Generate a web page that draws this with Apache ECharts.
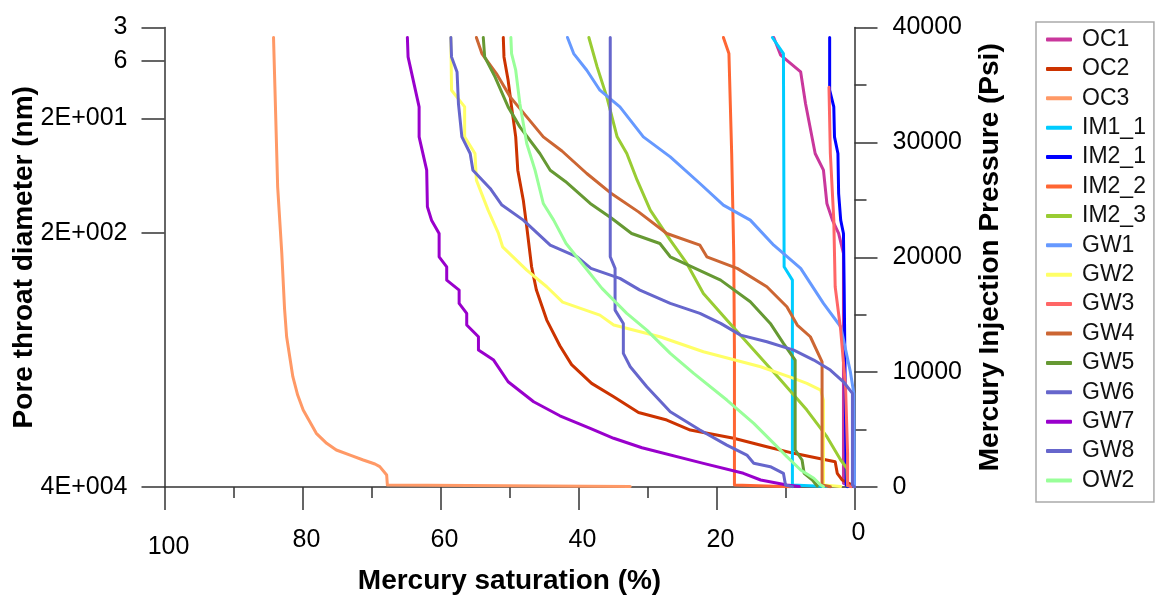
<!DOCTYPE html>
<html>
<head>
<meta charset="utf-8">
<script src="https://cdn.jsdelivr.net/npm/echarts@6/dist/echarts.min.js"></script>
<style>
html,body{margin:0;padding:0;background:#fff;}
#chart{width:1157px;height:596px;}
</style>
</head>
<body>
<div id="chart"></div>
<script>
// ---- Data: [mercury saturation (%), injection pressure (Psi)] ----
const seriesNames = ['OC1','OC2','OC3','IM1_1','IM2_1','IM2_2','IM2_3','GW1','GW2','GW3','GW4','GW5','GW6','GW7','GW8','OW2'];
const seriesColors = ['#C9379C','#CC3300','#FF9966','#00CCFF','#0000FF','#FF6633','#99CC33','#6699FF','#FFFF66','#FF6666','#CC6633','#669933','#6666CC','#9900CC','#6666CC','#99FF99'];

const OC1 = [[11.7,39130],[10.7,37590],[7.8,36130],[7.1,33380],[5.7,29030],[4.5,27580],[4.0,24680],[3.2,23230],[2.3,22070],[1.6,20330],[1.6,320],[0.6,90]];
const OC2 = [[50.9,39130],[50.8,37440],[50.2,35410],[49.7,33090],[49.1,30480],[48.8,27580],[48.0,24970],[47.5,22650],[46.8,19170],[46.1,17140],[44.6,14530],[42.7,12300],[41.0,10650],[38.1,9020],[34.9,7860],[31.3,6480],[27.2,5830],[23.8,4960],[17.5,4240],[12.7,3510],[8.8,2930],[2.8,2200],[2.5,1190],[1.8,610],[0.6,260],[0,50]];
const OC3 = [[84.2,39130],[84.0,34830],[83.6,26130],[83.0,20330],[82.6,15500],[82.3,13080],[81.4,9600],[80.7,8000],[79.9,6700],[78.0,4670],[76.5,3800],[75.1,3220],[73.0,2750],[71.2,2350],[69.5,2000],[68.8,1770],[67.8,1040],[67.7,170],[67.6,40],[32.5,40]];
const IM1_1 = [[11.9,39130],[10.3,37730],[10.2,19170],[9.0,18010],[9.0,170],[8.9,40],[4.0,40]];
const IM2_1 = [[3.6,39130],[3.6,34540],[3.0,33090],[2.9,30480],[2.4,29030],[2.3,25550],[2.0,23230],[1.6,22070],[1.5,17430],[1.2,170],[1.0,30]];
const IM2_2 = [[19.0,39130],[18.2,37730],[17.8,29030],[17.5,20330],[17.4,11660],[17.4,170],[17.3,30],[9.3,30]];
const IM2_3 = [[38.5,39130],[37.3,36570],[35.9,33960],[34.4,30480],[33.0,29030],[31.5,26710],[29.6,24100],[26.7,21490],[24.3,19460],[21.9,16850],[18.5,14530],[14.6,11920],[10.7,9310],[6.9,6700],[4.0,4380],[2.0,2350],[1.1,1630],[1.0,100]];
const GW1 = [[41.6,39130],[40.7,37730],[38.8,36280],[36.9,34540],[34.0,33090],[30.6,30480],[26.7,28740],[22.4,26420],[19.0,24540],[15.1,23230],[11.7,21050],[7.8,19030],[4.5,15980],[2.0,13950],[0.6,10030],[0.1,8150],[0,0]];
const GW2 = [[58.5,39130],[58.4,34540],[56.5,33090],[56.5,30480],[55.0,29030],[54.8,26710],[53.1,24100],[51.6,22070],[51.0,20910],[47.5,18880],[44.6,17430],[42.3,16100],[36.9,14960],[34.9,14100],[28.2,13080],[21.9,11770],[13.6,10470],[8.8,9460],[6.9,9020],[4.9,8440],[4.5,7570],[4.5,170],[4.3,40],[2.0,40]];
const GW3 = [[3.7,34800],[3.5,29030],[3.0,23230],[2.8,17430],[2.0,13660],[1.3,8730],[1.0,2930],[1.0,170],[0.5,30]];
const GW4 = [[54.8,39130],[54.0,37730],[51.9,35990],[49.9,33960],[47.5,32220],[45.1,30480],[42.4,29250],[38.8,27290],[35.4,25620],[31.3,23950],[27.2,22070],[22.4,21050],[21.4,20040],[17.0,19030],[12.7,17430],[9.8,15690],[8.3,14100],[6.4,13080],[4.7,10900],[4.7,170],[3.5,30]];
const GW5 = [[53.8,39130],[53.6,37440],[52.1,35700],[50.2,33090],[48.5,31350],[45.6,29030],[44.1,27580],[41.9,26600],[38.3,24680],[35.2,23400],[32.3,22070],[28.2,21200],[26.7,20040],[19.4,18010],[15.1,16120],[12.2,14240],[10.3,12500],[8.6,11050],[8.6,3220],[7.6,2350],[7.3,1190],[6.1,610],[5.4,90]];
const GW6 = [[58.5,39130],[58.4,37440],[57.6,36130],[57.4,33380],[56.9,30480],[55.7,29030],[55.3,27580],[52.8,25990],[51.1,24540],[48.0,23230],[44.1,21050],[40.2,20040],[38.2,19030],[34.0,18160],[31.1,17140],[26.7,15980],[22.4,15110],[19.4,14240],[16.5,13220],[12.7,12640],[8.8,11920],[5.9,11050],[3.5,10180],[1.6,9160],[0.3,8150],[0.3,200],[0,0]];
const GW7 = [[64.8,39130],[64.7,37440],[63.1,33090],[63.1,30480],[62.0,27580],[61.9,24390],[61.3,23230],[60.2,22070],[60.2,20040],[59.1,19170],[59.1,18010],[57.3,17140],[57.3,15980],[56.2,15110],[56.2,14100],[54.5,13080],[54.5,11920],[52.3,11050],[50.2,9160],[46.5,7420],[42.7,6200],[38.3,5100],[34.9,4240],[30.8,3420],[21.9,2060],[16.1,1190],[13.6,610],[9.8,170],[8.0,50]];
const GW8 = [[35.4,39130],[35.4,20040],[34.7,19030],[34.7,15400],[33.5,14240],[33.5,11630],[32.5,10470],[30.1,8730],[26.7,6550],[22.4,4960],[18.5,3650],[15.6,2780],[14.6,2060],[12.2,1770],[10.3,1190],[10.0,170],[9.0,30]];
const OW2 = [[49.8,39130],[49.7,37730],[49.1,36280],[48.5,33380],[47.5,29900],[46.3,27580],[45.1,24680],[43.6,23230],[41.8,21200],[39.5,19460],[36.6,17290],[33.0,15110],[30.1,13660],[26.7,11630],[23.3,9890],[18.5,7570],[14.6,5540],[11.7,3800],[9.8,2640],[7.8,1480],[5.9,760],[4.9,170],[4.5,30]];

const seriesData = [OC1,OC2,OC3,IM1_1,IM2_1,IM2_2,IM2_3,GW1,GW2,GW3,GW4,GW5,GW6,GW7,GW8,OW2];

// tick labels
const satTicks = [0,20,40,60,80,100];
const pressureTicks = [0,10000,20000,30000,40000];
const poreTickValues = [0,22100,32100,37070,40000];
const poreTickLabels = ['4E+004','2E+002','2E+001','6','3'];

const FONT = '"Liberation Sans", Arial, sans-serif';
const AX = '#333';

const chart = echarts.init(document.getElementById('chart'), null, {renderer:'canvas'});
const option = {
  animation:false,
  backgroundColor:'#fff',
  textStyle:{fontFamily:FONT},
  grid:{left:164.5, top:27.5, width:690, height:459.5, containLabel:false, outerBoundsMode:'none'},
  legend:{
    orient:'vertical', left:1036, top:22,
    padding:[6,8,10,10],
    itemWidth:26, itemHeight:4, itemGap:6.4,
    borderColor:'#aaa', borderWidth:1.5,
    icon:'roundRect',
    textStyle:{fontSize:23, color:'#111', fontFamily:FONT, lineHeight:22, padding:[0,0,0,5]},
    data:seriesNames
  },
  xAxis:{
    type:'value', inverse:true, min:0, max:100, interval:20,
    name:'Mercury saturation (%)', nameLocation:'middle', nameGap:80, nameMoveOverlap:false,
    nameTextStyle:{fontSize:28, fontWeight:'bold', color:'#000', fontFamily:FONT},
    axisLine:{show:true, onZero:false, lineStyle:{color:AX, width:1.5}},
    axisTick:{show:true, inside:false, length:23, lineStyle:{color:AX, width:1.5}},
    minorTick:{show:true, splitNumber:2, length:11, lineStyle:{color:AX, width:1.5}},
    axisLabel:{fontSize:25, color:'#000', margin:34, fontFamily:FONT,
      formatter:function(v){
        if (satTicks.indexOf(v) < 0) return '';
        if (v === 100) return '{b|' + v + '}';
        if (v === 0) return '{c|' + v + '}';
        return '{a|' + v + '}';
      },
      rich:{
        a:{fontSize:25, color:'#000', fontFamily:FONT, padding:[7,0,0,8]},
        b:{fontSize:25, color:'#000', fontFamily:FONT, padding:[14,0,0,8]},
        c:{fontSize:25, color:'#000', fontFamily:FONT, padding:[0,0,0,8]}
      }
    },
    splitLine:{show:false}
  },
  yAxis:[
    {
      type:'value', position:'right', min:0, max:40000, interval:10000,
      name:'Mercury Injection Pressure (Psi)', nameLocation:'middle', nameGap:122, nameRotate:90, nameMoveOverlap:false,
      nameTextStyle:{fontSize:28, fontWeight:'bold', color:'#000', fontFamily:FONT},
      axisLine:{show:true, onZero:false, lineStyle:{color:AX, width:1.5}},
      axisTick:{show:true, inside:false, length:23, lineStyle:{color:AX, width:1.5}},
      minorTick:{show:true, splitNumber:2, length:12, lineStyle:{color:AX, width:1.5}},
      axisLabel:{fontSize:25, color:'#000', margin:38, fontFamily:FONT,
        formatter:function(v){ return pressureTicks.indexOf(v) >= 0 ? String(v) : ''; }},
      splitLine:{show:false}
    },
    {
      type:'value', position:'left', min:0, max:40000,
      name:'Pore throat diameter (nm)', nameLocation:'middle', nameGap:126, nameRotate:90, nameMoveOverlap:false,
      nameTextStyle:{fontSize:28, fontWeight:'bold', color:'#000', fontFamily:FONT},
      axisLine:{show:true, onZero:false, lineStyle:{color:AX, width:1.5}},
      axisTick:{show:true, inside:false, length:23, customValues:poreTickValues, lineStyle:{color:AX, width:1.5}},
      axisLabel:{fontSize:25, color:'#000', margin:37, fontFamily:FONT, customValues:poreTickValues,
        formatter:function(v){ const i = poreTickValues.indexOf(v); return i>=0 ? poreTickLabels[i] : ''; }},
      splitLine:{show:false}
    }
  ],
  series: seriesNames.map(function(n,i){
    return {
      name:n, type:'line', yAxisIndex:0, data:seriesData[i],
      showSymbol:false, symbol:'none', smooth:false,
      lineStyle:{width:3, color:seriesColors[i], cap:'round', join:'round'},
      itemStyle:{color:seriesColors[i]},
      emphasis:{disabled:true}
    };
  })
};
chart.setOption(option);
</script>
</body>
</html>
